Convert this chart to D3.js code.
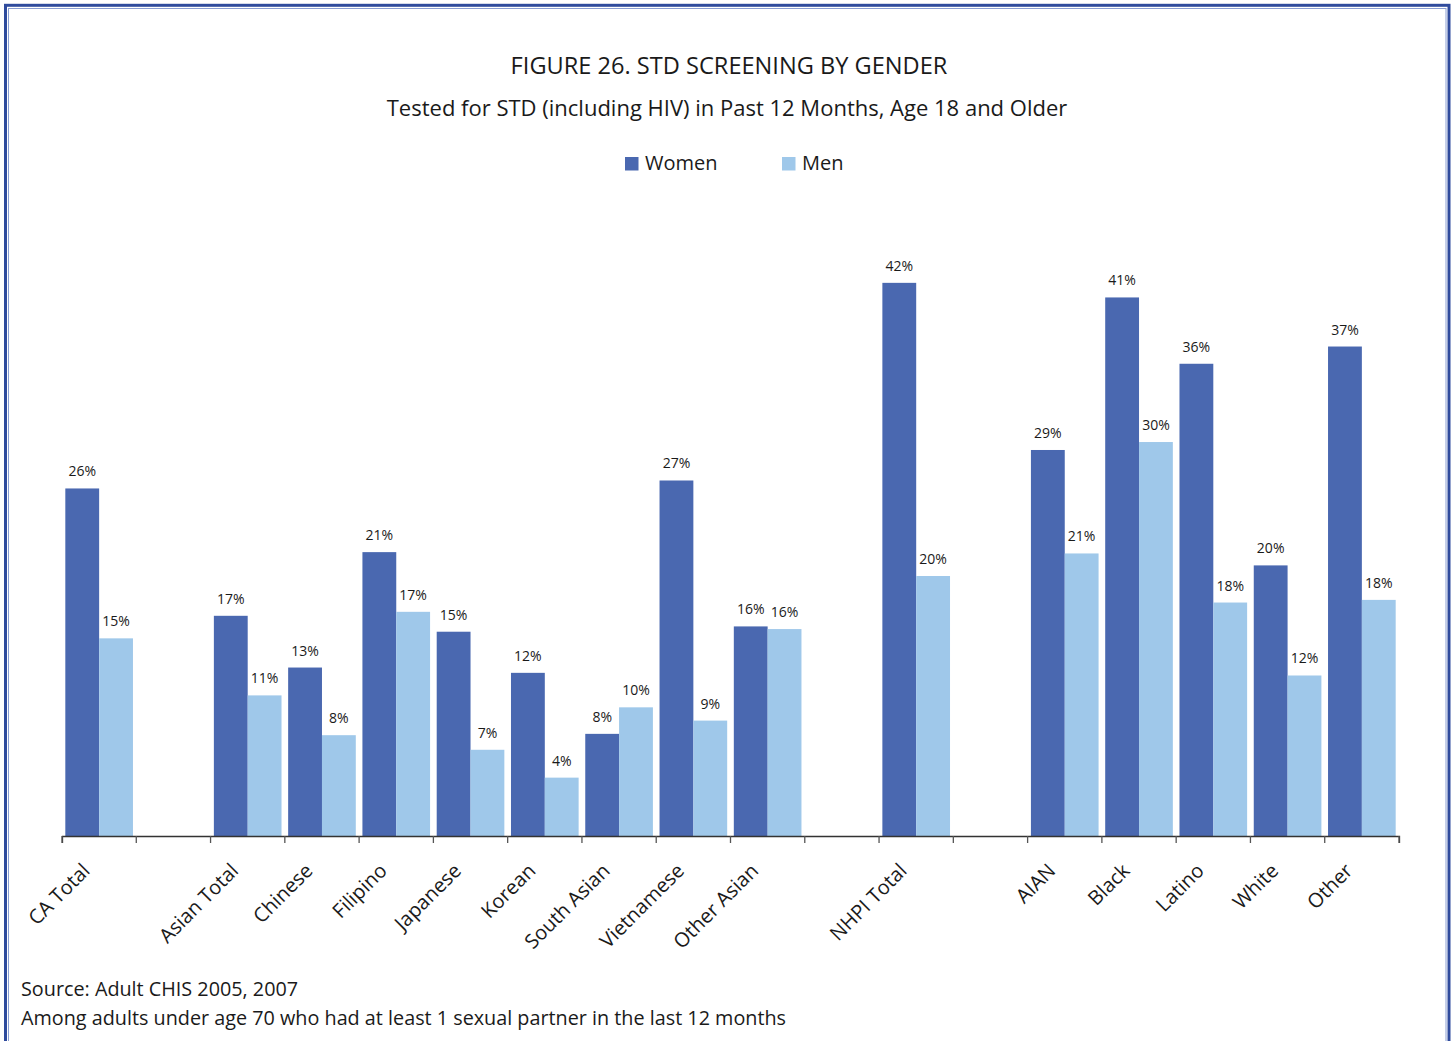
<!DOCTYPE html>
<html>
<head>
<meta charset="utf-8">
<script src="https://cdn.jsdelivr.net/npm/d3@7"></script>
<style>
  html, body { margin: 0; padding: 0; background: #fff; }
  svg { display: block; }
  text { font-family: "Open Sans", "Noto Sans", sans-serif; fill: #1a1a1a; }
</style>
</head>
<body>
<svg id="chart" width="1453" height="1041"></svg>
<script>
// ---- data ----
const categories = ["CA Total", "", "Asian Total", "Chinese", "Filipino", "Japanese", "Korean",
  "South Asian", "Vietnamese", "Other Asian", " ", "NHPI Total", "  ", "AIAN", "Black", "Latino", "White", "Other"];
const women = [26.2, null, 16.6, 12.7, 21.4, 15.4, 12.3, 7.7, 26.8, 15.8, null, 41.7, null, 29.1, 40.6, 35.6, 20.4, 36.9];
const men   = [14.9, null, 10.6, 7.6, 16.9, 6.5, 4.4, 9.7, 8.7, 15.6, null, 19.6, null, 21.3, 29.7, 17.6, 12.1, 17.8];
const seriesNames = ["Women", "Men"];
const titleText = "FIGURE 26. STD SCREENING BY GENDER";
const subtitleText = "Tested for STD (including HIV) in Past 12 Months, Age 18 and Older";
const footnotes = ["Source: Adult CHIS 2005, 2007",
  "Among adults under age 70 who had at least 1 sexual partner in the last 12 months"];

// ---- styles ----
const colors = { Women: "#4a68b0", Men: "#9fc8ea" };
const svg = d3.select("#chart");

// frame
svg.append("rect").attr("x", 5.5).attr("y", 5.3).attr("width", 1443.5).attr("height", 1100)
  .attr("fill", "none").attr("stroke", "#2f4b9d").attr("stroke-width", 3);
svg.append("rect").attr("x", 8.5).attr("y", 8.5).attr("width", 1437.5).attr("height", 1100)
  .attr("fill", "none").attr("stroke", "#8a9ed2").attr("stroke-width", 1);

// scales
const x0 = d3.scaleBand().domain(categories).range([62, 1399]).paddingInner(0).paddingOuter(0);
const x1 = d3.scaleBand().domain(seriesNames).range([0, x0.bandwidth()]).paddingOuter(0.098);
const y = d3.scaleLinear().domain([0, 45]).range([836, 836 - 45 * 13.265]);

const rows = categories.map((c, i) => ({ cat: c, Women: women[i], Men: men[i] }));

const g = svg.append("g");
const groups = g.selectAll("g.cat").data(rows.filter(r => r.Women != null))
  .join("g").attr("class", "cat").attr("transform", d => `translate(${x0(d.cat)},0)`);

groups.selectAll("rect").data(d => seriesNames.map(s => ({ s, v: d[s] })))
  .join("rect")
  .attr("x", d => x1(d.s)).attr("width", x1.bandwidth())
  .attr("y", d => y(d.v)).attr("height", d => y(0) - y(d.v))
  .attr("fill", d => colors[d.s]);

groups.selectAll("text.val").data(d => seriesNames.map(s => ({ s, v: d[s] })))
  .join("text").attr("class", "val")
  .attr("x", d => x1(d.s) + x1.bandwidth() / 2)
  .attr("y", d => y(d.v) - 12)
  .attr("text-anchor", "middle").attr("font-size", 14)
  .text(d => Math.round(d.v) + "%");

// axis
const axis = d3.axisBottom(x0).tickSize(7).tickFormat("").tickSizeOuter(7);
const axG = svg.append("g").attr("transform", `translate(0,${y(0)})`).call(axis);
axG.select(".domain").attr("stroke", "#333").attr("stroke-width", 1.3);
axG.selectAll(".tick").remove();
// boundary ticks between categories
const bounds = categories.map(c => x0(c)).concat([x0.range()[1]]);
axG.selectAll("line.b").data(bounds).join("line").attr("class", "b")
  .attr("x1", d => d).attr("x2", d => d).attr("y1", 0).attr("y2", 7)
  .attr("stroke", "#555").attr("stroke-width", 1.3);

// category labels
svg.append("g").selectAll("text").data(categories.filter(c => c.trim() !== ""))
  .join("text")
  .attr("transform", d => `translate(${x0(d) + x0.bandwidth() / 2 - 8},872) rotate(-45)`)
  .attr("text-anchor", "end").attr("font-size", 20)
  .text(d => d);

// titles
svg.append("text").attr("x", 729).attr("y", 74).attr("text-anchor", "middle")
  .attr("font-size", 23.6).text(titleText);
svg.append("text").attr("x", 727).attr("y", 116).attr("text-anchor", "middle")
  .attr("font-size", 22).text(subtitleText);

// legend
const leg = svg.append("g");
const legX = [625, 782];
seriesNames.forEach((s, i) => {
  leg.append("rect").attr("x", legX[i]).attr("y", 157).attr("width", 13.5).attr("height", 13.5).attr("fill", colors[s]);
  leg.append("text").attr("x", legX[i] + 20).attr("y", 170).attr("font-size", 20).text(s);
});

// footnotes
svg.append("g").selectAll("text").data(footnotes).join("text")
  .attr("x", 21).attr("y", (d, i) => 996 + i * 29).attr("font-size", 19.8).text(d => d);
</script>
</body>
</html>
